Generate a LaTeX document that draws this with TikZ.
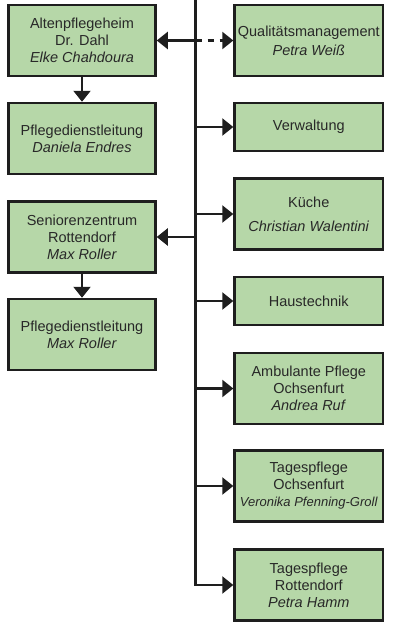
\documentclass[tikz,border=0pt]{standalone}
\usepackage{fontspec}
\setmainfont{Liberation Sans}
\usepackage{xcolor}
\definecolor{boxgreen}{RGB}{182,215,168}
\definecolor{edgegray}{RGB}{30,30,30}
\definecolor{textgray}{RGB}{40,40,40}
\usetikzlibrary{arrows.meta,positioning}

\begin{document}
\begin{tikzpicture}[x=1pt, y=-1pt,
        unit/.style={draw=edgegray, line width=2.5pt, fill=boxgreen,
            minimum width=147pt, minimum height=71pt, inner sep=1pt,
            align=center, text=textgray,
            font=\fontsize{14.5}{17}\selectfont},
        wideunit/.style={unit, minimum width=148.5pt},
        flatunit/.style={wideunit, minimum height=48pt},
        link/.style={draw=edgegray, line width=2.2pt,
            -{Triangle[length=11pt,width=17pt]}}]
    \useasboundingbox (0,0) rectangle (394,624);

    % left column: homes
    \node[unit] (heim) at (82,40.5)
        {Altenpflegeheim\\Dr. Dahl\\\textit{Elke Chahdoura}};
    \node[unit] (pdlheim) at (82,138.5)
        {Pflegedienstleitung\\\textit{Daniela Endres}};
    \node[unit] (senior) at (82,237)
        {Seniorenzentrum\\Rottendorf\\\textit{Max Roller}};
    \node[unit] (pdlsenior) at (82,334.5)
        {Pflegedienstleitung\\\textit{Max Roller}};

    % right column: departments
    \node[wideunit] (qm) at (308.8,40.5)
        {Qualitätsmanagement\\[2pt]\textit{Petra Weiß}};
    \node[flatunit] (verw) at (308.8,127) {Verwaltung};
    \node[wideunit] (kueche) at (308.8,214)
        {Küche\\[7pt]\textit{Christian Walentini}};
    \node[flatunit] (haus) at (308.8,301) {Haustechnik};
    \node[wideunit] (amb) at (308.8,388.5)
        {Ambulante Pflege\\Ochsenfurt\\\textit{Andrea Ruf}};
    \node[wideunit] (tago) at (308.8,486)
        {Tagespflege\\Ochsenfurt\\{\fontsize{13}{17}\selectfont\textit{Veronika Pfenning-Groll}}};
    \node[wideunit] (tagr) at (308.8,585)
        {Tagespflege\\Rottendorf\\\textit{Petra Hamm}};

    % trunk
    \coordinate (top) at (195.5,0);
    \draw[link] (top) |- (tagr.west);
    \foreach \b in {verw,kueche,haus,amb,tago}
        \draw[link] (top |- \b.west) -- (\b.west);
    \draw[link, dash pattern=on 6pt off 6pt] (top |- qm.west) -- (qm.west);
    \draw[link] (top |- heim.east) -- (heim.east);
    \draw[link] (top |- senior.east) -- (senior.east);

    % homes down to their care leads
    \draw[link] (heim) -- (pdlheim);
    \draw[link] (senior) -- (pdlsenior);
\end{tikzpicture}
\end{document}
